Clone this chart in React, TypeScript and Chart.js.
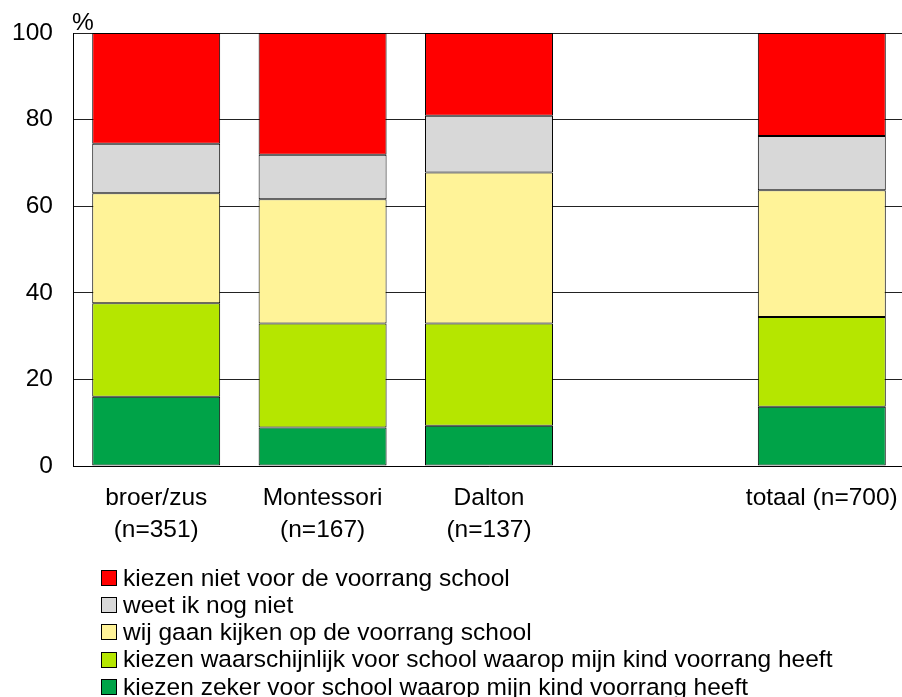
import React, { useEffect, useRef } from "react";
import { Chart, registerables } from "chart.js";

Chart.register(...registerables);

const categories: (string | string[])[] = [
  ["broer/zus", "(n=351)"],
  ["Montessori", "(n=167)"],
  ["Dalton", "(n=137)"],
  "",
  "totaal (n=700)",
];

const zekerVoor: (number | null)[] = [16.0, 8.9, 9.3, null, 13.7];
const waarschijnlijkVoor: (number | null)[] = [21.6, 24.0, 23.6, null, 20.7];
const gaanKijken: (number | null)[] = [25.4, 28.7, 34.9, null, 29.3];
const weetNiet: (number | null)[] = [11.4, 10.3, 13.1, null, 12.5];
const nietVoor: (number | null)[] = [25.6, 28.1, 19.1, null, 23.8];

const seriesLabels = [
  "kiezen zeker voor school waarop mijn kind voorrang heeft",
  "kiezen waarschijnlijk voor school waarop mijn kind voorrang heeft",
  "wij gaan kijken op de voorrang school",
  "weet ik nog niet",
  "kiezen niet voor de voorrang school",
];
const seriesColors = ["#00A348", "#B5E600", "#FFF398", "#D8D8D8", "#FF0000"];
const yTicks = [0, 20, 40, 60, 80, 100];

const FONT = "'Liberation Sans', Arial, sans-serif";
const FS = 24.5;

export default function App() {
  const ref = useRef<HTMLCanvasElement | null>(null);

  useEffect(() => {
    if (!ref.current) return;
    const seriesData = [zekerVoor, waarschijnlijkVoor, gaanKijken, weetNiet, nietVoor];

    const extras = {
      id: "extras",
      afterDraw(chart: any) {
        const ctx = chart.ctx;
        ctx.save();
        ctx.fillStyle = "#000";
        ctx.font = `${FS}px ${FONT}`;
        ctx.textAlign = "left";
        ctx.textBaseline = "alphabetic";
        ctx.fillText("%", chart.chartArea.left - 1, 30);
        // vertical legend, top series first
        const items = chart.data.datasets
          .map((d: any) => ({ label: d.label, color: d.backgroundColor }))
          .reverse();
        items.forEach((it: any, i: number) => {
          const cy = 578 + i * 27.2;
          ctx.fillStyle = it.color;
          ctx.fillRect(101, Math.round(cy - 8), 16, 16);
          ctx.strokeStyle = "#000";
          ctx.lineWidth = 1;
          ctx.strokeRect(101.5, Math.round(cy - 8) + 0.5, 15, 15);
          ctx.fillStyle = "#000";
          ctx.textBaseline = "middle";
          ctx.fillText(it.label, 123, cy + 1);
        });
        ctx.restore();
      },
    };

    const chart = new Chart(ref.current, {
      type: "bar",
      data: {
        labels: categories,
        datasets: seriesData.map((d, i) => ({
          label: seriesLabels[i],
          data: d,
          backgroundColor: seriesColors[i],
          borderColor: "#000",
          borderWidth: 1,
          borderSkipped: false,
          categoryPercentage: 1,
          barPercentage: 0.769,
        })),
      },
      options: {
        responsive: false,
        animation: false,
        devicePixelRatio: 1,
        layout: { padding: { top: 33, left: 0, right: 0, bottom: 0 } },
        plugins: {
          legend: { display: false },
          tooltip: { enabled: false },
        },
        scales: {
          x: {
            stacked: true,
            grid: { display: false, drawTicks: false },
            border: { display: true, color: "#000", width: 1 },
            ticks: {
              color: "#000",
              font: { family: FONT, size: FS, lineHeight: 1.31 },
              padding: 16,
              maxRotation: 0,
              autoSkip: false,
            },
            afterFit: (s: any) => {
              s.height = 231;
              s.paddingLeft = 0;
              s.paddingRight = 0;
              s.paddingTop = 0;
              s.paddingBottom = 0;
            },
          },
          y: {
            stacked: true,
            min: 0,
            max: 100,
            afterBuildTicks: (s: any) => {
              s.ticks = yTicks.map((v) => ({ value: v }));
            },
            grid: { color: "#222", lineWidth: 1, drawTicks: false },
            border: { display: true, color: "#000", width: 1 },
            ticks: {
              color: "#000",
              font: { family: FONT, size: FS },
              padding: 20,
            },
            afterFit: (s: any) => {
              s.width = 73;
              s.paddingTop = 0;
              s.paddingBottom = 0;
              s.paddingLeft = 0;
              s.paddingRight = 0;
            },
          },
        },
      },
      plugins: [extras],
    });
    return () => chart.destroy();
  }, []);

  return (
    <div style={{ position: "fixed", left: 0, top: 0, width: 902, height: 697, overflow: "hidden", background: "#fff" }}>
      <canvas ref={ref} width={905} height={697} style={{ display: "block", width: 905, height: 697 }} />
    </div>
  );
}
